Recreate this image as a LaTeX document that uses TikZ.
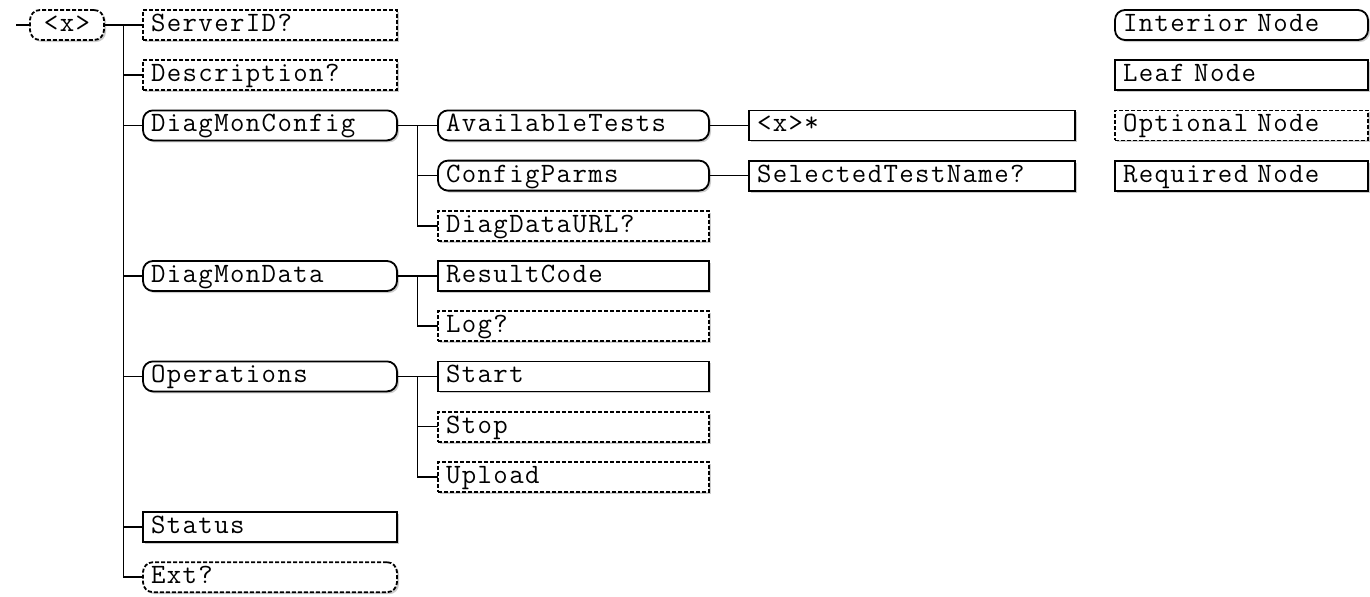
\documentclass[tikz,border=0pt]{standalone}
\usepackage{fontspec}
\setmonofont{Latin Modern Mono}[LetterSpace=5]
\usetikzlibrary{positioning,calc,shadows}
\tikzset{
  box/.style={draw, line width=0.9pt, fill=white, text=black,
    font=\fontsize{14}{15}\selectfont\ttfamily,
    minimum height=15pt, inner xsep=4pt, inner ysep=0pt, outer sep=0pt,
    align=left, text height=9.2pt, text depth=2.8pt,
    drop shadow={shadow xshift=1pt, shadow yshift=-1pt, fill=black!40}},
  interior/.style={box, rounded corners=5pt},
  leaf/.style={box},
  optional/.style={dash pattern=on 2pt off 1pt},
  wire/.style={line width=0.75pt},
  colA/.style={text width=119pt},
  colB/.style={text width=127.5pt},
  colC/.style={text width=155pt},
  legend/.style={text width=118.5pt}
}
\begin{document}
\begin{tikzpicture}
  \useasboundingbox (0,0) rectangle (685pt,-298pt);

  % Nodes
  \node[interior, optional, text width=29pt, align=center] (root) at (33.5pt,-12.5pt) {<x>};
  \coordinate[left=7pt of root.west] (start);

  \node[leaf, optional, colA, right=19.5pt of root]        (ServerID)      {ServerID?};
  \node[leaf, optional, colA, below=10.1pt of ServerID]    (Description)   {Description?};
  \node[interior, colA, below=10.1pt of Description]       (DiagMonConfig) {DiagMonConfig};

  \node[interior, colB, right=20.5pt of DiagMonConfig]     (AvailableTests) {AvailableTests};
  \node[interior, colB, below=10.1pt of AvailableTests]    (ConfigParms)    {ConfigParms};
  \node[leaf, optional, colB, below=10.1pt of ConfigParms] (DiagDataURL)    {DiagDataURL?};
  \node[leaf, colB, below=10.1pt of DiagDataURL]           (ResultCode)     {ResultCode};
  \node[leaf, optional, colB, below=10.1pt of ResultCode]  (Log)            {Log?};
  \node[leaf, colB, below=10.1pt of Log]                   (Start)          {Start};
  \node[leaf, optional, colB, below=10.1pt of Start]       (Stop)           {Stop};
  \node[leaf, optional, colB, below=10.1pt of Stop]        (Upload)         {Upload};

  \node[interior, colA, left=20.5pt of ResultCode]         (DiagMonData)    {DiagMonData};
  \node[interior, colA, left=20.5pt of Start]              (Operations)     {Operations};
  \node[leaf, colA, below=60.3pt of Operations]            (Status)         {Status};
  \node[interior, optional, colA, below=10.1pt of Status]  (Ext)            {Ext?};

  \node[leaf, colC, right=20pt of AvailableTests]          (Tests)          {<x>*};
  \node[leaf, colC, right=20pt of ConfigParms]             (SelTestName)    {SelectedTestName?};

  % Legend
  \node[interior, legend] (legInterior) at (620.75pt,-12.5pt) {Interior Node};
  \node[leaf, legend, below=10.1pt of legInterior]           (legLeaf)     {Leaf Node};
  \node[leaf, optional, legend, below=10.1pt of legLeaf]     (legOptional) {Optional Node};
  \node[leaf, legend, below=10.1pt of legOptional]           (legRequired) {Required Node};

  % Edges
  \coordinate (t1) at ($(root.east)!0.5!(ServerID.west)$);
  \coordinate (t2) at ($(DiagMonConfig.east)!0.5!(AvailableTests.west)$);
  \coordinate (t3) at ($(DiagMonData.east)!0.5!(ResultCode.west)$);
  \coordinate (t4) at ($(Operations.east)!0.5!(Start.west)$);

  \draw[wire] (start) -- (root.west);
  \draw[wire] (root.east) -- (ServerID.west);
  \draw[wire] (t1) |- (Description.west);
  \draw[wire] (t1) |- (DiagMonConfig.west);
  \draw[wire] (t1) |- (DiagMonData.west);
  \draw[wire] (t1) |- (Operations.west);
  \draw[wire] (t1) |- (Status.west);
  \draw[wire] (t1) |- (Ext.west);

  \draw[wire] (DiagMonConfig.east) -- (AvailableTests.west);
  \draw[wire] (t2) |- (ConfigParms.west);
  \draw[wire] (t2) |- (DiagDataURL.west);

  \draw[wire] (DiagMonData.east) -- (ResultCode.west);
  \draw[wire] (t3) |- (Log.west);

  \draw[wire] (Operations.east) -- (Start.west);
  \draw[wire] (t4) |- (Stop.west);
  \draw[wire] (t4) |- (Upload.west);

  \draw[wire] (AvailableTests.east) -- (Tests.west);
  \draw[wire] (ConfigParms.east) -- (SelTestName.west);

\end{tikzpicture}
\end{document}
